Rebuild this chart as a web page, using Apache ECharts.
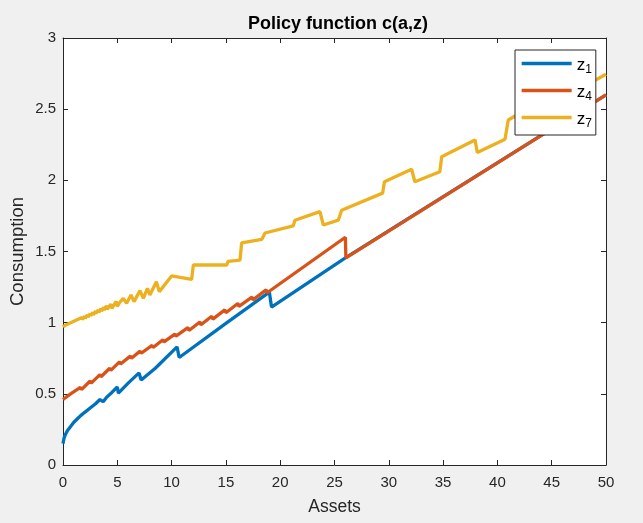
<!DOCTYPE html>
<html>
<head>
<meta charset="utf-8">
<script src="https://cdn.jsdelivr.net/npm/echarts@6/dist/echarts.min.js"></script>
<style>html,body{margin:0;padding:0;background:#f0f0f0;}#c{width:643px;height:523px;}</style>
</head>
<body>
<div id="c"></div>
<script>
// Legend labels / categories
var seriesNames = ['z1', 'z4', 'z7'];
var xTicks = [0, 5, 10, 15, 20, 25, 30, 35, 40, 45, 50];
var yTicks = [0, 0.5, 1, 1.5, 2, 2.5, 3];

// z1 (blue)
var assetsZ1 = [0, 0.1, 0.2, 0.4, 0.7, 1.0, 1.4, 1.6, 1.7, 2.0, 2.5, 2.6, 3.0, 3.4, 3.7, 4.0, 4.5, 5.0, 5.1, 6.0, 7.0, 7.2, 8.5, 10.5, 10.7, 15.0, 19.0, 19.2, 26.0, 50.0];
var consZ1   = [0.15, 0.19, 0.21, 0.24, 0.27, 0.30, 0.33, 0.345, 0.34, 0.37, 0.40, 0.395, 0.43, 0.46, 0.445, 0.475, 0.51, 0.548, 0.505, 0.575, 0.647, 0.597, 0.68, 0.83, 0.755, 0.995, 1.215, 1.11, 1.455, 2.6];

// z4 (orange)
var assetsZ4 = [0, 0.7, 0.8, 1.6, 1.7, 2.5, 2.6, 3.4, 3.5, 4.3, 4.4, 5.2, 5.3, 6.2, 6.3, 7.1, 7.2, 8.2, 8.3, 9.2, 9.3, 10.3, 10.4, 11.5, 11.6, 12.6, 12.7, 13.7, 13.8, 14.9, 15.0, 16.1, 16.2, 17.4, 17.5, 18.7, 18.8, 26.0, 26.05, 50.0];
var consZ4   = [0.46, 0.50, 0.49, 0.545, 0.53, 0.59, 0.575, 0.635, 0.62, 0.68, 0.665, 0.725, 0.71, 0.765, 0.75, 0.80, 0.785, 0.84, 0.825, 0.88, 0.865, 0.92, 0.905, 0.965, 0.945, 1.005, 0.985, 1.045, 1.025, 1.09, 1.07, 1.135, 1.115, 1.18, 1.16, 1.23, 1.21, 1.60, 1.455, 2.6];

// z7 (yellow)
var assetsZ7 = [0, 0.25, 0.3, 0.5, 0.55, 0.75, 0.8, 1.0, 1.05, 1.25, 1.3, 1.5, 1.55, 1.75, 1.8, 2.0, 2.05, 2.25, 2.3, 2.5, 2.55, 2.75, 2.8, 3.0, 3.05, 3.25, 3.3, 3.5, 3.55, 3.75, 3.8, 4.0, 4.08, 4.4, 4.5, 4.9, 5.0, 5.2, 5.55, 5.86, 6.26, 6.54, 7.09, 7.4, 7.77, 8.0, 8.6, 8.87, 10.0, 11.85, 12.0, 15.07, 15.2, 16.3, 16.45, 18.3, 18.6, 21.2, 21.36, 23.66, 23.97, 25.35, 25.66, 29.43, 29.6, 32.1, 32.4, 34.7, 34.87, 37.94, 38.15, 40.7, 41.0, 44.5, 44.7, 50.0];
var consZ7   = [0.97, 0.984, 0.974, 0.993, 0.983, 1.001, 0.99, 1.01, 0.998, 1.019, 1.006, 1.028, 1.014, 1.037, 1.022, 1.046, 1.03, 1.055, 1.039, 1.064, 1.047, 1.073, 1.055, 1.082, 1.064, 1.091, 1.072, 1.10, 1.08, 1.109, 1.088, 1.12, 1.094, 1.13, 1.10, 1.15, 1.115, 1.14, 1.171, 1.136, 1.195, 1.148, 1.225, 1.171, 1.241, 1.195, 1.288, 1.218, 1.328, 1.305, 1.405, 1.405, 1.43, 1.44, 1.56, 1.585, 1.63, 1.68, 1.72, 1.78, 1.686, 1.72, 1.79, 1.91, 1.99, 2.078, 1.99, 2.06, 2.166, 2.284, 2.195, 2.289, 2.424, 2.58, 2.52, 2.745];

function pairs(xs, ys) { return xs.map(function (x, i) { return [x, ys[i]]; }); }

var axisColor = '#262626';
var font = 'Liberation Sans, Arial, Helvetica, sans-serif';
var chart = echarts.init(document.getElementById('c'), null, {renderer: 'canvas'});
function axisX(pos, show) {
  return {
    type: 'value', position: pos, min: xTicks[0], max: xTicks[xTicks.length - 1], interval: 5,
    axisLine: {show: true, onZero: false, lineStyle: {color: axisColor, width: 1}},
    axisTick: {show: true, inside: true, length: 5, lineStyle: {color: axisColor}},
    axisLabel: {show: show, color: axisColor, fontSize: 15, fontFamily: font, margin: 10},
    splitLine: {show: false}
  };
}
function axisY(pos, show) {
  return {
    type: 'value', position: pos, min: yTicks[0], max: yTicks[yTicks.length - 1], interval: 0.5,
    axisLine: {show: true, onZero: false, lineStyle: {color: axisColor, width: 1}},
    axisTick: {show: true, inside: true, length: 5, lineStyle: {color: axisColor}},
    axisLabel: {show: show, color: axisColor, fontSize: 15, fontFamily: font, margin: 7},
    splitLine: {show: false}
  };
}
var xa = axisX('bottom', true);
xa.name = 'Assets'; xa.nameLocation = 'middle'; xa.nameGap = 33; xa.nameMoveOverlap = false;
xa.nameTextStyle = {fontSize: 17.5, color: axisColor, fontFamily: font};
var xb = axisX('top', false);
var ya = axisY('left', true);
ya.name = 'Consumption'; ya.nameLocation = 'middle'; ya.nameGap = 36; ya.nameMoveOverlap = false;
ya.nameTextStyle = {fontSize: 18.5, color: axisColor, fontFamily: font};
var yb = axisY('right', false);

var colors = ['#0072BD', '#D95319', '#EDB120'];
var datasets = [pairs(assetsZ1, consZ1), pairs(assetsZ4, consZ4), pairs(assetsZ7, consZ7)];
var series = seriesNames.map(function (n, i) {
  return {
    name: n, type: 'line', data: datasets[i], xAxisIndex: 0, yAxisIndex: 0,
    symbol: 'none', showSymbol: false, animation: false,
    lineStyle: {color: colors[i], width: 3.3}, itemStyle: {color: colors[i]}
  };
});

chart.setOption({
  backgroundColor: '#f0f0f0',
  animation: false,
  title: {
    text: 'Policy function c(a,z)', left: 333, top: 10, textAlign: 'center',
    textStyle: {fontSize: 18, fontWeight: 'bold', color: '#000', fontFamily: font}
  },
  grid: {left: 63, right: 37, top: 38, bottom: 58, show: true, backgroundColor: '#ffffff', borderWidth: 0,
         containLabel: false, outerBoundsMode: 'none'},
  xAxis: [xa, xb],
  yAxis: [ya, yb],
  legend: {
    orient: 'vertical', left: 515, top: 50, width: 79,
    backgroundColor: '#ffffff', borderColor: '#262626', borderWidth: 1,
    padding: [5, 4, 5, 5], itemWidth: 50, itemHeight: 21, itemGap: 6,
    itemStyle: {opacity: 0},
    lineStyle: {width: 3.3},
    formatter: function (name) { return '{z|z}{s|' + name.slice(1) + '}'; },
    textStyle: {
      color: '#000', fontFamily: font,
      rich: {
        z: {fontSize: 17, lineHeight: 17, fontFamily: font, color: '#000', verticalAlign: 'top', padding: [2, 0, 0, 0]},
        s: {fontSize: 12, lineHeight: 12, fontFamily: font, color: '#000', verticalAlign: 'top', padding: [9, 0, 0, 0]}
      }
    }
  },
  series: series
});
</script>
</body>
</html>
